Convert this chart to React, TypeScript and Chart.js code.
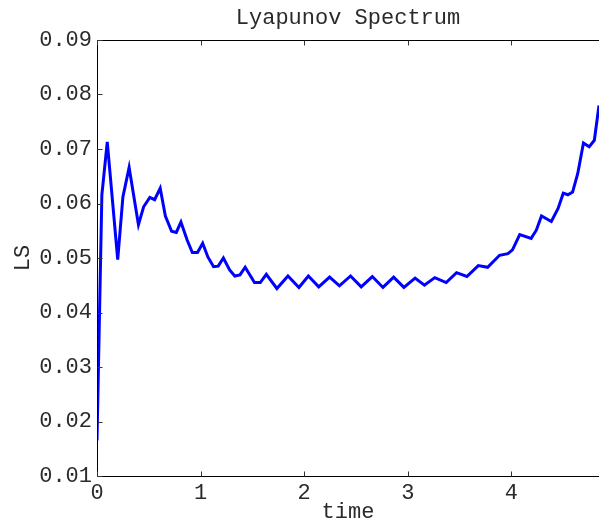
import React, { useEffect, useRef } from "react";
import { Chart, registerables } from "chart.js";

Chart.register(...registerables);

const chartTitle = "Lyapunov Spectrum";
const xAxisLabel = "time";
const yAxisLabel = "LS";

const xTickValues = [0, 1, 2, 3, 4];
const yTickValues = [0.01, 0.02, 0.03, 0.04, 0.05, 0.06, 0.07, 0.08, 0.09];

const timeValues = [
  0, 0.047, 0.099, 0.2, 0.25, 0.31, 0.4, 0.45, 0.51, 0.556, 0.61, 0.66, 0.72, 0.765,
  0.81, 0.87, 0.92, 0.97, 1.02, 1.07, 1.125, 1.17, 1.22, 1.28, 1.33, 1.38, 1.43,
  1.52, 1.576, 1.634, 1.736, 1.843, 1.949, 2.04, 2.14, 2.245, 2.34, 2.447, 2.55,
  2.657, 2.76, 2.863, 2.962, 3.07, 3.16, 3.26, 3.37, 3.47, 3.57, 3.68, 3.77, 3.885,
  3.966, 4.01, 4.08, 4.19, 4.24, 4.29, 4.385, 4.45, 4.5, 4.545, 4.59, 4.64, 4.695,
  4.75, 4.8, 4.845,
];

const lsValues = [
  0.0165, 0.0616, 0.0713, 0.0497, 0.0612, 0.0666, 0.0561, 0.0594, 0.0611, 0.0607,
  0.0628, 0.0577, 0.0549, 0.0547, 0.0566, 0.0533, 0.051, 0.051, 0.0527, 0.0502,
  0.0484, 0.0485, 0.05, 0.0478, 0.0467, 0.0469, 0.0483, 0.0455, 0.0455, 0.047,
  0.0444, 0.0467, 0.0446, 0.0467, 0.0447, 0.0465, 0.0449, 0.0467, 0.0447, 0.0466,
  0.0446, 0.0465, 0.0446, 0.0463, 0.045, 0.0464, 0.0455, 0.0473, 0.0466, 0.0486,
  0.0483, 0.0505, 0.0508, 0.0515, 0.0543, 0.0536, 0.0551, 0.0577, 0.0567, 0.0591,
  0.0619, 0.0616, 0.0621, 0.0655, 0.0711, 0.0704, 0.0716, 0.078,
];

const FONT = "'Liberation Mono', 'Courier New', monospace";
const TEXT_COLOR = "#2a2a2a";

const framePlugin = {
  id: "matlabFrame",
  afterDatasetsDraw(chart: any) {
    const { ctx, chartArea } = chart;
    const { left, right, top, bottom } = chartArea;
    const xs = chart.scales.x;
    const ys = chart.scales.y;
    const L = Math.round(left) + 0.5;
    const T = Math.round(top) + 0.5;
    const B = Math.round(bottom) + 0.5;
    ctx.save();
    ctx.strokeStyle = "#000";
    ctx.lineWidth = 1;
    ctx.beginPath();
    ctx.moveTo(L, T);
    ctx.lineTo(right, T);
    ctx.moveTo(L, T);
    ctx.lineTo(L, B);
    ctx.lineTo(right, B);
    ctx.stroke();
    const tl = 5;
    ctx.strokeStyle = "#333";
    ctx.beginPath();
    xs.ticks.forEach((t: any) => {
      const px = Math.round(xs.getPixelForValue(t.value)) + 0.5;
      ctx.moveTo(px, B);
      ctx.lineTo(px, B - tl);
      ctx.moveTo(px, T);
      ctx.lineTo(px, T + tl);
    });
    ys.ticks.forEach((t: any) => {
      const py = Math.round(ys.getPixelForValue(t.value)) + 0.5;
      ctx.moveTo(L, py);
      ctx.lineTo(L + tl, py);
    });
    ctx.stroke();
    ctx.restore();
  },
};

export default function App() {
  const canvasRef = useRef<HTMLCanvasElement | null>(null);

  useEffect(() => {
    document.body.style.margin = "0";
    const canvas = canvasRef.current;
    if (!canvas) return;
    const chart = new Chart(canvas, {
      type: "line",
      data: {
        datasets: [
          {
            data: timeValues.map((t, i) => ({ x: t, y: lsValues[i] })),
            borderColor: "#0000ff",
            borderWidth: 3,
            pointRadius: 0,
            tension: 0,
            fill: false,
          },
        ],
      },
      options: {
        responsive: false,
        animation: false,
        devicePixelRatio: 1,
        layout: { padding: { top: 0, left: 0, right: 0, bottom: 0 } },
        plugins: {
          legend: { display: false },
          tooltip: { enabled: false },
          title: {
            display: true,
            fullSize: false,
            text: chartTitle,
            color: TEXT_COLOR,
            font: { family: FONT, size: 22, weight: "normal" },
            padding: { top: 5, bottom: 8.6 },
          },
        },
        scales: {
          x: {
            type: "linear",
            min: 0,
            max: 4.845,
            afterBuildTicks: (scale: any) => {
              scale.ticks = xTickValues.map((v) => ({ value: v }));
            },
            afterFit: (scale: any) => {
              scale.height = 48;
            },
            grid: { display: false, drawTicks: false },
            border: { display: false },
            ticks: {
              color: TEXT_COLOR,
              font: { family: FONT, size: 22 },
              padding: 4,
              maxRotation: 0,
              autoSkip: false,
              callback: (v: any) => String(v),
            },
            title: {
              display: true,
              text: xAxisLabel,
              color: TEXT_COLOR,
              font: { family: FONT, size: 22 },
              padding: { top: 0, bottom: -1 },
            },
          },
          y: {
            type: "linear",
            min: 0.01,
            max: 0.09,
            afterBuildTicks: (scale: any) => {
              scale.ticks = yTickValues.map((v) => ({ value: v }));
            },
            afterFit: (scale: any) => {
              scale.width = 97;
            },
            grid: { display: false, drawTicks: false },
            border: { display: false },
            ticks: {
              color: TEXT_COLOR,
              font: { family: FONT, size: 22 },
              padding: 5,
              autoSkip: false,
              callback: (v: any) => Number(v).toFixed(2),
            },
            title: {
              display: true,
              text: yAxisLabel,
              color: TEXT_COLOR,
              font: { family: FONT, size: 22 },
              padding: { top: 10, bottom: 0 },
            },
          },
        },
      },
      plugins: [framePlugin],
    } as any);
    return () => chart.destroy();
  }, []);

  return (
    <div style={{ width: 599, height: 524 }}>
      <canvas ref={canvasRef} width={599} height={524} style={{ width: 599, height: 524, display: "block" }} />
    </div>
  );
}
